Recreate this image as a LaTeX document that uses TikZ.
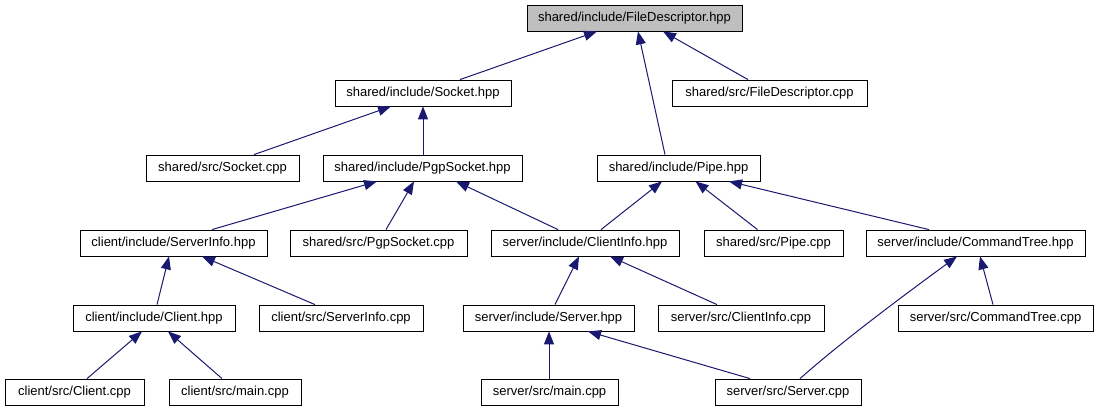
\documentclass[tikz,border=0pt]{standalone}
\usepackage{fontspec}
\setmainfont{Liberation Sans}
\usetikzlibrary{arrows.meta}
\definecolor{edgeblue}{HTML}{191970}
\definecolor{rootgray}{HTML}{BFBFBF}
\tikzset{
  box/.style={draw=black, line width=0.8pt, fill=white, inner sep=0pt,
    minimum height=26pt, font=\fontsize{13}{15}\selectfont},
  rootbox/.style={box, fill=rootgray},
  dep/.style={draw=edgeblue, line width=1pt,
    -{Triangle[length=13pt,width=10pt]}, edgeblue},
}
\begin{document}
\begin{tikzpicture}[x=1pt,y=-1pt]
\useasboundingbox (0,0) rectangle (1099,411);
% row 1
\node[rootbox, minimum width=215pt] (fdh) at (634.5,18) {shared/include/FileDescriptor.hpp};
% row 2
\node[box, minimum width=176pt] (sockh) at (423,93) {shared/include/Socket.hpp};
\node[box, minimum width=195pt] (fdc) at (769.5,93) {shared/src/FileDescriptor.cpp};
% row 3
\node[box, minimum width=153pt] (sockc) at (222.5,168) {shared/src/Socket.cpp};
\node[box, minimum width=199pt] (pgph) at (422.5,168) {shared/include/PgpSocket.hpp};
\node[box, minimum width=163pt] (pipeh) at (678.5,168) {shared/include/Pipe.hpp};
% row 4
\node[box, minimum width=187pt] (sih) at (173.5,243) {client/include/ServerInfo.hpp};
\node[box, minimum width=177pt] (pgpc) at (378.5,243) {shared/src/PgpSocket.cpp};
\node[box, minimum width=188pt] (cih) at (585,243) {server/include/ClientInfo.hpp};
\node[box, minimum width=139pt] (pipec) at (773.5,243) {shared/src/Pipe.cpp};
\node[box, minimum width=219pt] (cth) at (975.5,243) {server/include/CommandTree.hpp};
% row 5
\node[box, minimum width=162pt] (clh) at (154,318) {client/include/Client.hpp};
\node[box, minimum width=164pt] (sic) at (341,318) {client/src/ServerInfo.cpp};
\node[box, minimum width=171pt] (svh) at (548.5,318) {server/include/Server.hpp};
\node[box, minimum width=166pt] (cic) at (741,318) {server/src/ClientInfo.cpp};
\node[box, minimum width=195pt] (ctc) at (995.5,318) {server/src/CommandTree.cpp};
% row 6
\node[box, minimum width=139pt] (clc) at (74.5,392) {client/src/Client.cpp};
\node[box, minimum width=132pt] (clm) at (235,392) {client/src/main.cpp};
\node[box, minimum width=137pt] (svm) at (549.5,392) {server/src/main.cpp};
\node[box, minimum width=146pt] (svc) at (788,392) {server/src/Server.cpp};
% edges
\draw[dep] ([xshift=37pt]sockh.north) -- ([xshift=-37.5pt]fdh.south);
\draw[dep] ([xshift=-13.5pt]pipeh.north) -- ([xshift=3.5pt]fdh.south);
\draw[dep] ([xshift=-21.5pt]fdc.north) -- ([xshift=28.5pt]fdh.south);
\draw[dep] ([xshift=31.5pt]sockc.north) -- ([xshift=-32pt]sockh.south);
\draw[dep] ([xshift=0.5pt]pgph.north) -- ([xshift=0pt]sockh.south);
\draw[dep] ([xshift=38.5pt]sih.north) -- ([xshift=-45.5pt]pgph.south);
\draw[dep] ([xshift=7.5pt]pgpc.north) -- ([xshift=-8.5pt]pgph.south);
\draw[dep] ([xshift=-27pt]cih.north) -- ([xshift=33.5pt]pgph.south);
\draw[dep] ([xshift=16pt]cih.north) -- ([xshift=-16.5pt]pipeh.south);
\draw[dep] ([xshift=-16pt]pipec.north) -- ([xshift=17pt]pipeh.south);
\draw[dep] ([xshift=-46.5pt]cth.north) -- ([xshift=50.5pt]pipeh.south);
\draw[dep] ([xshift=3pt]clh.north) -- ([xshift=-4.5pt]sih.south);
\draw[dep] ([xshift=-26pt]sic.north) -- ([xshift=28.5pt]sih.south);
\draw[dep] ([xshift=6.5pt]svh.north) -- ([xshift=-6pt]cih.south);
\draw[dep] ([xshift=-24pt]cic.north) -- ([xshift=25pt]cih.south);
\draw[dep] ([xshift=12pt]svc.north) .. controls +(45,-40) and +(-45,33) .. ([xshift=-18.5pt]cth.south);
\draw[dep] ([xshift=-2.5pt]ctc.north) -- ([xshift=4.5pt]cth.south);
\draw[dep] ([xshift=12.5pt]clc.north) -- ([xshift=-12pt]clh.south);
\draw[dep] ([xshift=-13pt]clm.north) -- ([xshift=14pt]clh.south);
\draw[dep] ([xshift=-0.5pt]svm.north) -- ([xshift=0.5pt]svh.south);
\draw[dep] ([xshift=-38pt]svc.north) -- ([xshift=39.5pt]svh.south);
\end{tikzpicture}
\end{document}
